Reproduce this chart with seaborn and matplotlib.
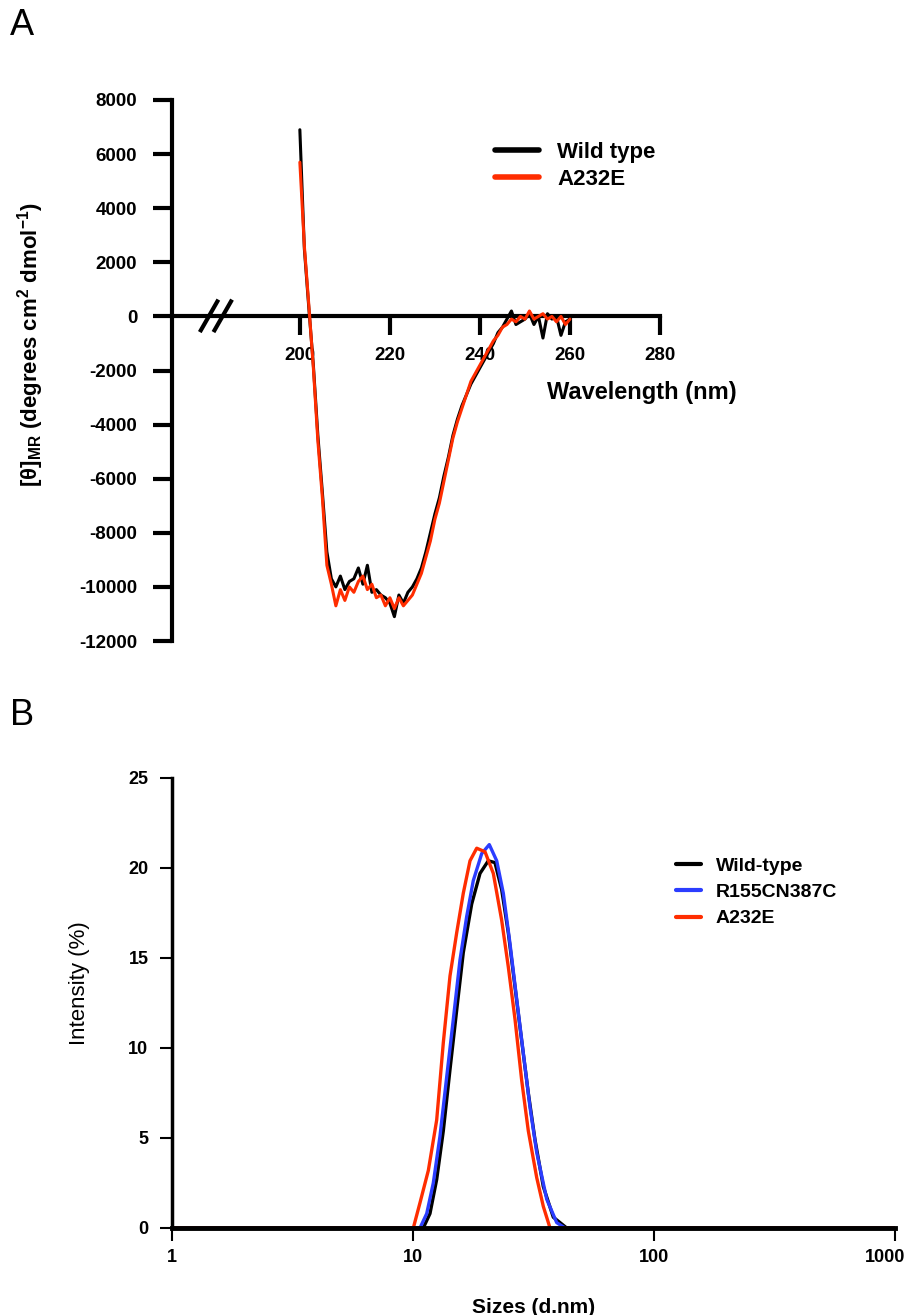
import numpy as np
import pandas as pd
import matplotlib
matplotlib.use('Agg')
import matplotlib.pyplot as plt
import matplotlib.transforms as mtransforms
import seaborn as sns
from matplotlib.ticker import FixedLocator, FixedFormatter, NullLocator

# ---- panel A: CD spectra ----
wavelength = np.arange(200, 261, 1)
cd_wild = [6900, 2500, 300, -1800, -4400, -6500, -8700, -9700, -10000, -9600,
           -10100, -9800, -9700, -9300, -9900, -9200, -10200, -10100, -10300, -10400,
           -10600, -11100, -10300, -10600, -10200, -10000, -9700, -9300, -8700, -8000,
           -7300, -6700, -5900, -5200, -4400, -3800, -3300, -2900, -2500, -2200,
           -1900, -1600, -1300, -1000, -600, -400, -100, 200, -300, -200,
           -100, 100, -300, 0, -800, 100, -100, 0, -700, -200, -100]
cd_a232e = [5700, 2600, 400, -1900, -4600, -6700, -9200, -9900, -10700, -10100,
            -10500, -10000, -10200, -9800, -9600, -10100, -9900, -10400, -10300, -10700,
            -10400, -10800, -10400, -10700, -10500, -10300, -9900, -9500, -8900, -8300,
            -7500, -6900, -6100, -5300, -4500, -3900, -3400, -2900, -2400, -2100,
            -1800, -1500, -1200, -900, -700, -400, -300, -100, -200, 0,
            -100, 200, -100, 0, 100, -100, 0, -200, 0, -300, -100]
a_xticks = [200, 220, 240, 260, 280]
a_yticks = list(range(-12000, 8001, 2000))

# ---- panel B: DLS size distributions ----
size_wild = [1, 11.03, 11.76, 12.54, 13.36, 14.24, 15.18, 16.17, 17.52, 18.97, 20.53,
             21.88, 23.33, 24.86, 26.50, 28.25, 30.09, 32.08, 34.73, 38.21, 43.43, 1000]
int_wild = [0, 0, 0.8, 2.7, 5.4, 8.8, 12.1, 15.3, 18.0, 19.7, 20.4,
            20.3, 18.8, 16.4, 13.4, 10.4, 7.5, 4.9, 2.3, 0.6, 0, 0]
size_r155 = [1, 10.69, 11.40, 12.14, 12.94, 13.80, 14.70, 15.67, 16.70, 17.79, 19.28, 20.73,
             22.25, 23.70, 25.26, 26.94, 28.70, 30.59, 32.61, 35.88, 39.47, 42.72, 1000]
int_r155 = [0, 0, 0.8, 2.5, 5.1, 8.4, 11.6, 14.9, 17.3, 19.3, 20.8, 21.3,
            20.4, 18.6, 15.8, 12.7, 9.7, 6.7, 4.2, 1.6, 0.3, 0, 0]
size_a232e = [1, 10.03, 10.69, 11.58, 12.54, 13.36, 14.24, 15.18, 16.17, 17.24, 18.38, 19.90,
              21.54, 23.33, 24.86, 26.50, 28.25, 30.09, 32.61, 34.73, 37.03, 1000]
int_a232e = [0, 0, 1.4, 3.2, 6.0, 10.3, 14.0, 16.4, 18.6, 20.4, 21.1, 20.9,
             19.7, 17.1, 14.5, 11.6, 8.2, 5.4, 2.8, 1.2, 0, 0]
b_xticks = [1, 10, 100, 1000]
b_yticks = [0, 5, 10, 15, 20, 25]

BLACK = '#000000'
RED = '#ff2d00'
BLUE = '#2b3dff'

sns.set_style('ticks')
plt.rcParams['font.family'] = ['Liberation Sans', 'DejaVu Sans']
plt.rcParams['font.weight'] = 'bold'
plt.rcParams['axes.unicode_minus'] = False
plt.rcParams['axes.edgecolor'] = 'black'
plt.rcParams['xtick.color'] = 'black'
plt.rcParams['ytick.color'] = 'black'
plt.rcParams['text.color'] = 'black'
plt.rcParams['axes.labelcolor'] = 'black'
plt.rcParams['mathtext.fontset'] = 'custom'
plt.rcParams['mathtext.rm'] = 'Liberation Sans:bold'
plt.rcParams['mathtext.it'] = 'Liberation Sans:bold'
plt.rcParams['mathtext.bf'] = 'Liberation Sans:bold'

fig = plt.figure(figsize=(9.1, 13.15), dpi=100)

# ================= Panel A =================
axA = fig.add_axes([172/910, 1-641/1315, 488/910, 541/1315])
dfA = pd.DataFrame({'wl': wavelength, 'wt': cd_wild, 'mut': cd_a232e})
sns.lineplot(data=dfA, x='wl', y='wt', ax=axA, color=BLACK, lw=2.2, label='Wild type', zorder=3)
sns.lineplot(data=dfA, x='wl', y='mut', ax=axA, color=RED, lw=2.2, label='A232E', zorder=4)
axA.set_xlim(171.6, 280)
axA.set_ylim(-12000, 8000)
for s in ['top', 'right']:
    axA.spines[s].set_visible(False)
axA.spines['bottom'].set_position(('data', 0))
axA.spines['bottom'].set_linewidth(3)
axA.spines['left'].set_linewidth(3)
axA.xaxis.set_major_locator(FixedLocator(a_xticks))
axA.yaxis.set_major_locator(FixedLocator(a_yticks))
axA.set_yticklabels([str(v) for v in a_yticks])
axA.tick_params(axis='x', direction='out', length=14, width=3, pad=8, labelsize=13.5)
axA.tick_params(axis='y', direction='out', length=14, width=3, pad=11, labelsize=13.5)
for lab in axA.get_xticklabels() + axA.get_yticklabels():
    lab.set_fontweight('bold')
axA.set_xlabel('')
axA.set_ylabel('[θ]$_{\\mathrm{MR}}$ (degrees cm$^{\\mathrm{2}}$ dmol$^{\\mathrm{-1}}$)',
               fontsize=16, fontweight='bold')
axA.yaxis.set_label_coords(-0.258, 0.547)
axA.text(1.158, 0.46, 'Wavelength (nm)', transform=axA.transAxes, ha='right', va='center',
         fontsize=17, fontweight='bold')
# axis break marks
for x0 in (0.057, 0.085):
    axA.plot([x0, x0 + 0.038], [0.571, 0.631], transform=axA.transAxes, color=BLACK,
             lw=3, clip_on=False, solid_capstyle='butt')
legA = axA.legend(loc='upper left', bbox_to_anchor=(495/910, 1-142/1315),
                  bbox_transform=fig.transFigure, frameon=False, fontsize=16,
                  handlelength=2.0, handletextpad=0.8, labelspacing=0.25,
                  borderpad=0, borderaxespad=0)
for t in legA.get_texts():
    t.set_fontweight('bold')
for h in legA.get_lines():
    h.set_linewidth(4)

# ================= Panel B =================
axB = fig.add_axes([172/910, 1-1228/1315, 723/910, 450/1315])
axB.set_xscale('log')
sns.lineplot(x=size_wild, y=int_wild, ax=axB, color=BLACK, lw=2.4, label='Wild-type')
sns.lineplot(x=size_r155, y=int_r155, ax=axB, color=BLUE, lw=2.4, label='R155CN387C')
sns.lineplot(x=size_a232e, y=int_a232e, ax=axB, color=RED, lw=2.4, label='A232E')
axB.set_xlim(1, 1000)
axB.set_ylim(0, 25)
for s in ['top', 'right']:
    axB.spines[s].set_visible(False)
axB.spines['left'].set_linewidth(2.5)
axB.spines['bottom'].set_linewidth(3.5)
axB.xaxis.set_major_locator(FixedLocator(b_xticks))
axB.xaxis.set_major_formatter(FixedFormatter([str(v) for v in b_xticks]))
axB.xaxis.set_minor_locator(NullLocator())
axB.yaxis.set_major_locator(FixedLocator(b_yticks))
axB.set_yticklabels([str(v) for v in b_yticks])
axB.tick_params(axis='x', direction='out', length=9, width=1.5, pad=6, labelsize=13)
axB.tick_params(axis='y', direction='out', length=9, width=1.5, pad=8, labelsize=13)
for lab in axB.get_xticklabels() + axB.get_yticklabels():
    lab.set_fontweight('bold')
# keep the last tick label inside the figure
last = axB.get_xticklabels()[-1]
last.set_horizontalalignment('right')
last.set_transform(last.get_transform() + mtransforms.ScaledTranslation(10/100, 0, fig.dpi_scale_trans))
axB.set_xlabel('Sizes (d.nm)', fontsize=15, fontweight='bold')
axB.xaxis.set_label_coords(0.5, -0.155)
axB.set_ylabel('Intensity (%)', fontsize=16, fontweight='normal')
axB.yaxis.set_label_coords(-0.113, 0.544)
legB = axB.legend(loc='upper left', bbox_to_anchor=(676/910, 1-857/1315),
                  bbox_transform=fig.transFigure, frameon=False, fontsize=14,
                  handlelength=1.3, handletextpad=0.75, labelspacing=0.45,
                  borderpad=0, borderaxespad=0)
for t in legB.get_texts():
    t.set_fontweight('bold')
for h in legB.get_lines():
    h.set_linewidth(3)

# panel letters
fig.text(10/910, 1-8/1315, 'A', fontsize=26, fontweight='normal', va='top', ha='left')
fig.text(10/910, 1-698/1315, 'B', fontsize=26, fontweight='normal', va='top', ha='left')

fig.savefig('out.png', dpi=100)
